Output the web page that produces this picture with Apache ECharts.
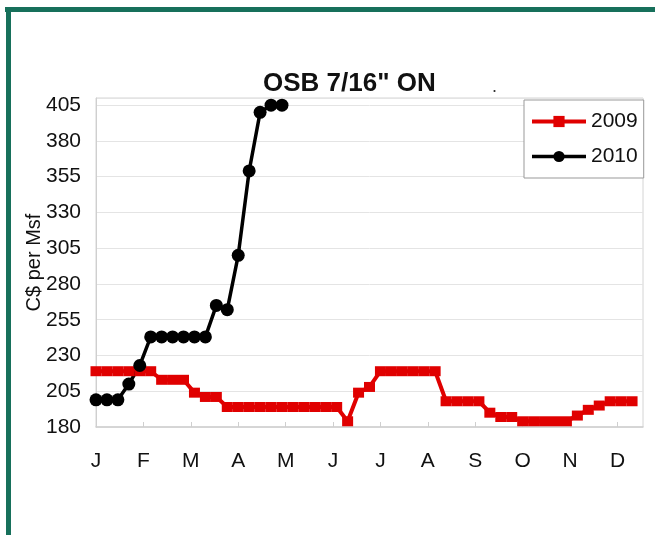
<!DOCTYPE html>
<html>
<head>
<meta charset="utf-8">
<script src="https://cdn.jsdelivr.net/npm/echarts@6/dist/echarts.min.js"></script>
<style>
  html, body { margin: 0; padding: 0; background: #fff; }
  #chart { width: 655px; height: 535px; }
</style>
</head>
<body>
<div id="chart"></div>
<script>
// weekly prices, C$ per Msf (week index = position in array)
var prices2009 = [219, 219, 219, 219, 219, 219, 213, 213, 213, 204, 201, 201,
  194, 194, 194, 194, 194, 194, 194, 194, 194, 194, 194, 184, 204, 208,
  219, 219, 219, 219, 219, 219, 198, 198, 198, 198, 190, 187, 187,
  184, 184, 184, 184, 184, 188, 192, 195, 198, 198, 198];
var prices2010 = [199, 199, 199, 210, 223, 243, 243, 243, 243, 243, 243,
  265, 262, 300, 359, 400, 405, 405];
var months = ['J', 'F', 'M', 'A', 'M', 'J', 'J', 'A', 'S', 'O', 'N', 'D'];
var yTicks = [180, 205, 230, 255, 280, 305, 330, 355, 380, 405];

var weeksPerMonth = 52 / 12;
var monthTicks = months.map(function (m, k) { return k * weeksPerMonth; });

function toPoints(arr) {
  return arr.map(function (v, i) { return [i, v]; });
}

var font = 'Liberation Sans, Arial, sans-serif';
var chart = echarts.init(document.getElementById('chart'));

chart.setOption({
  backgroundColor: '#fff',
  animation: false,
  title: {
    text: 'OSB 7/16" ON',
    left: 263,
    top: 71,
    padding: 0,
    textStyle: {
      fontFamily: font,
      fontSize: 26,
      fontWeight: 'bold',
      color: '#111'
    }
  },
  graphic: [
    // green frame round the slide
    { type: 'rect', shape: { x: 5, y: 7, width: 650, height: 5 }, style: { fill: '#17705b' } },
    { type: 'rect', shape: { x: 6, y: 7, width: 5, height: 528 }, style: { fill: '#17705b' } },
    { type: 'text', left: 492, top: 78, style: { text: '.', fontSize: 18, fontFamily: font, fill: '#333' } }
  ],
  legend: {
    orient: 'vertical',
    left: 524,
    top: 100,
    itemWidth: 54,
    itemHeight: 14,
    itemGap: 14,
    padding: [11, 6, 11, 6],
    backgroundColor: '#fff',
    borderColor: '#999',
    borderWidth: 1,
    textStyle: { fontFamily: font, fontSize: 21, color: '#111' },
    data: [
      { name: '2009', lineStyle: { width: 4 } },
      { name: '2010', lineStyle: { width: 3.5 } }
    ]
  },
  grid: {
    left: 96,
    right: 12,
    top: 98,
    bottom: 108,
    show: true,
    borderColor: '#d4d4d4',
    borderWidth: 1
  },
  xAxis: {
    type: 'value',
    min: 0,
    max: 50,
    axisLine: { lineStyle: { color: '#cfcfcf', width: 1.5 } },
    axisTick: {
      show: true,
      inside: true,
      length: 5,
      customValues: monthTicks,
      lineStyle: { color: '#cfcfcf' }
    },
    axisLabel: {
      customValues: monthTicks,
      margin: 24,
      fontFamily: font,
      fontSize: 21,
      color: '#111',
      formatter: function (v) {
        return months[Math.round(v / weeksPerMonth)] || '';
      }
    },
    splitLine: { show: false }
  },
  yAxis: {
    type: 'value',
    min: 180,
    max: 410,
    interval: 25,
    name: 'C$ per Msf',
    nameLocation: 'middle',
    nameGap: 52,
    nameMoveOverlap: false,
    nameTextStyle: { fontFamily: font, fontSize: 20, color: '#111' },
    axisLine: { show: true, lineStyle: { color: '#cfcfcf' } },
    axisTick: { show: false },
    axisLabel: {
      margin: 15,
      fontFamily: font,
      fontSize: 21,
      color: '#111',
      showMaxLabel: false,
      formatter: function (v) {
        return yTicks.indexOf(v) >= 0 ? String(v) : '';
      }
    },
    splitLine: { lineStyle: { color: '#e4e4e4' } }
  },
  series: [
    {
      name: '2009',
      type: 'line',
      data: toPoints(prices2009),
      symbol: 'rect',
      symbolSize: [11, 10],
      color: '#e00000',
      lineStyle: { color: '#e00000', width: 4 },
      itemStyle: { color: '#e00000' }
    },
    {
      name: '2010',
      type: 'line',
      data: toPoints(prices2010),
      symbol: 'circle',
      symbolSize: 13,
      color: '#000',
      lineStyle: { color: '#000', width: 3.5 },
      itemStyle: { color: '#000' }
    }
  ]
});
</script>
</body>
</html>
